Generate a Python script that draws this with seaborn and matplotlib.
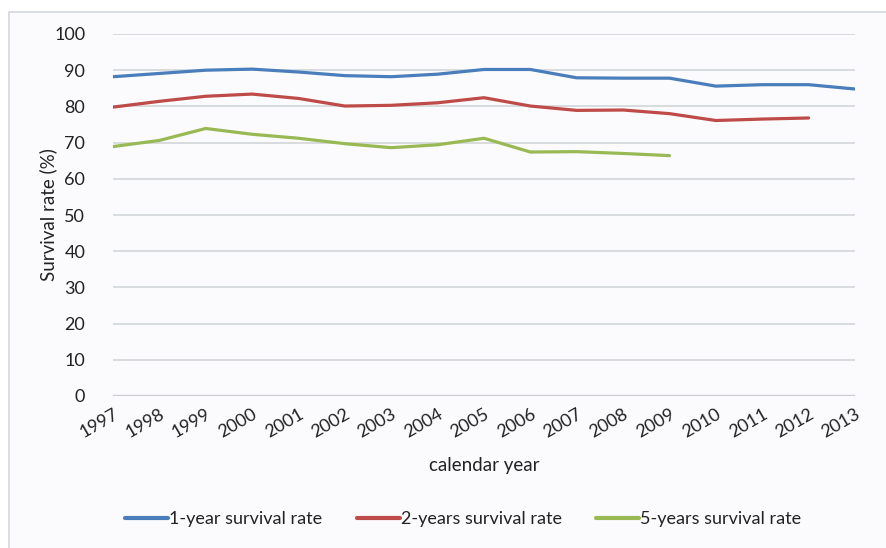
import matplotlib
matplotlib.use("Agg")
import matplotlib.pyplot as plt
import seaborn as sns
import pandas as pd
from matplotlib.patches import Rectangle

years = list(range(1997, 2014))
one_year = [88.2, 89.1, 90.0, 90.3, 89.5, 88.5, 88.2, 88.9, 90.2, 90.2, 87.9, 87.8, 87.8, 85.6, 86.0, 86.0, 84.8]
two_years = [79.8, 81.4, 82.8, 83.4, 82.2, 80.1, 80.3, 81.0, 82.4, 80.1, 78.9, 79.0, 78.0, 76.1, 76.5, 76.8]
five_years = [68.9, 70.6, 73.9, 72.3, 71.2, 69.7, 68.6, 69.4, 71.2, 67.4, 67.5, 67.0, 66.4]
series_names = ["1-year survival rate", "2-years survival rate", "5-years survival rate"]
colors = ["#4a7ebb", "#be4b48", "#98b954"]

rows = []
for name, vals in zip(series_names, [one_year, two_years, five_years]):
    for y, v in zip(years, vals):
        rows.append({"year": y, "rate": v, "series": name})
df = pd.DataFrame(rows)

sns.set_theme(style="white")
plt.rcParams["font.family"] = ["Lato", "DejaVu Sans"]

fig = plt.figure(figsize=(8.86, 5.48), dpi=100)
fig.patch.set_facecolor("white")
# outer chart frame
frame = Rectangle((9 / 886, -0.1), 1.2, (548 - 12) / 548 + 0.1,
                  transform=fig.transFigure, facecolor="#fbfbfd",
                  edgecolor="#d4d8dc", linewidth=1.2, zorder=-10)
fig.add_artist(frame)

ax = fig.add_axes([113 / 886, 1 - 396 / 548, (855 - 113) / 886, (396 - 34) / 548])
ax.set_facecolor("none")
ax.set_zorder(1)

sns.lineplot(data=df, x="year", y="rate", hue="series", palette=colors,
             hue_order=series_names, linewidth=2.3, ax=ax, legend=True)

ax.set_xlim(1997, 2013)
ax.set_ylim(0, 100)
ax.set_yticks(range(0, 101, 10))
ax.set_xticks(years)
ax.set_xticklabels([str(y) for y in years], rotation=30, ha="right",
                   rotation_mode="anchor", fontsize=13, color="#222222")
ax.tick_params(axis="y", labelsize=13, colors="#222222", length=0, pad=20)
ax.tick_params(axis="x", length=0, pad=7)
ax.grid(axis="y", color="#d6d9dc", linewidth=1.3)
ax.set_axisbelow(True)
for s in ax.spines.values():
    s.set_visible(False)
ax.axhline(0, color="#c8ccd0", linewidth=1.6, zorder=1)

ax.set_xlabel("calendar year", fontsize=13.5, color="#222222", labelpad=12)
ax.set_ylabel("Survival rate (%)", fontsize=13.5, color="#222222", labelpad=-2)

leg = ax.legend(loc="center", bbox_to_anchor=(0.472, -0.34), ncol=3,
                frameon=False, fontsize=13, handlelength=2.4,
                handletextpad=0.05, columnspacing=1.9)
for t in leg.get_texts():
    t.set_color("#222222")
for h in leg.get_lines():
    h.set_linewidth(3)

fig.savefig("out.png", dpi=100)
